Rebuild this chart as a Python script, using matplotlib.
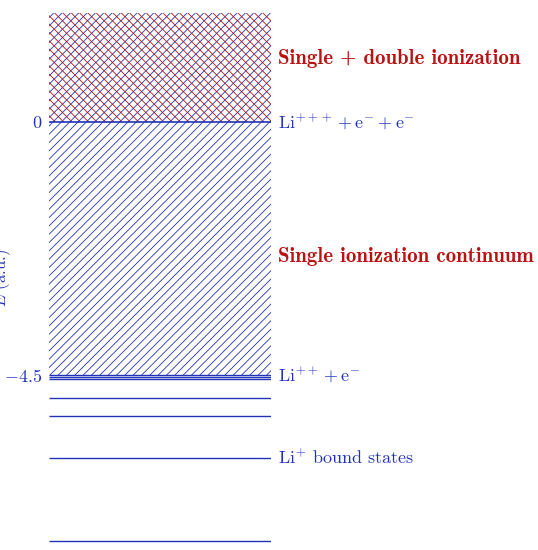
import matplotlib
matplotlib.use("Agg")
import matplotlib.pyplot as plt

levels = [-4.5, -4.54, -4.58, -4.91, -5.24, -5.98, -7.46]
continuum = (-4.5, 0.0)
double_top = 1.94
tick_vals = [0, -4.5]
tick_labels = ["$0$", "$-4.5$"]

plt.rcParams['font.family'] = 'serif'
plt.rcParams['font.serif'] = ['cmr10']
plt.rcParams['mathtext.fontset'] = 'cm'
plt.rcParams['axes.formatter.use_mathtext'] = True
plt.rcParams['hatch.linewidth'] = 0.6

blue = '#2233bb'
red = '#bb1111'
W, H = 538, 550
fig = plt.figure(figsize=(W/100, H/100), dpi=100)
x0, x1 = 49, 271
p_top, p_bot = 10, 545
ax = fig.add_axes([x0/W, 1-p_bot/H, (x1-x0)/W, (p_bot-p_top)/H])
s = 56.2
ax.set_ylim((122-p_bot)/s, (122-p_top)/s)
ax.set_xlim(0, 1)

ax.fill_between([0, 1], continuum[0], continuum[1], facecolor='none', edgecolor=blue, hatch='////', linewidth=0)
ax.fill_between([0, 1], continuum[1], double_top, facecolor='none', edgecolor=blue, hatch='////', linewidth=0)
ax.fill_between([0, 1], continuum[1], double_top, facecolor='none', edgecolor=red, hatch='\\\\\\\\', linewidth=0)

for e in levels:
    ax.plot([0, 1], [e, e], color=blue, lw=1.0, solid_capstyle='butt')
ax.plot([0, 1], [0, 0], color=blue, lw=1.2)

for sp in ax.spines.values():
    sp.set_visible(False)
ax.set_xticks([])
ax.set_yticks(tick_vals)
ax.set_yticklabels(tick_labels, color=blue, fontsize=13)
ax.tick_params(axis='y', length=0, pad=5)
ax.set_ylabel("$E$ (a.u.)", color=blue, fontsize=12, labelpad=2)
ax.yaxis.set_label_coords(-0.16, 0.5)

tr = ax.get_yaxis_transform()
tx = 1.03
ax.text(tx, 0, r"Li$^{+++}+\mathrm{e}^{-}+\mathrm{e}^{-}$", color=blue, fontsize=13, va='center', transform=tr, clip_on=False)
ax.text(tx, -4.5, r"Li$^{++}+\mathrm{e}^{-}$", color=blue, fontsize=13, va='center', transform=tr, clip_on=False)
ax.text(tx, -5.98, r"Li$^{+}$ bound states", color=blue, fontsize=13, va='center', transform=tr, clip_on=False)
ax.text(tx, 1.13, "Single + double ionization", color=red, fontsize=15, fontfamily='cmb10', va='center', transform=tr, clip_on=False)
ax.text(tx, -2.4, "Single ionization continuum", color=red, fontsize=15, fontfamily='cmb10', va='center', transform=tr, clip_on=False)

fig.savefig("out.png", dpi=100)
